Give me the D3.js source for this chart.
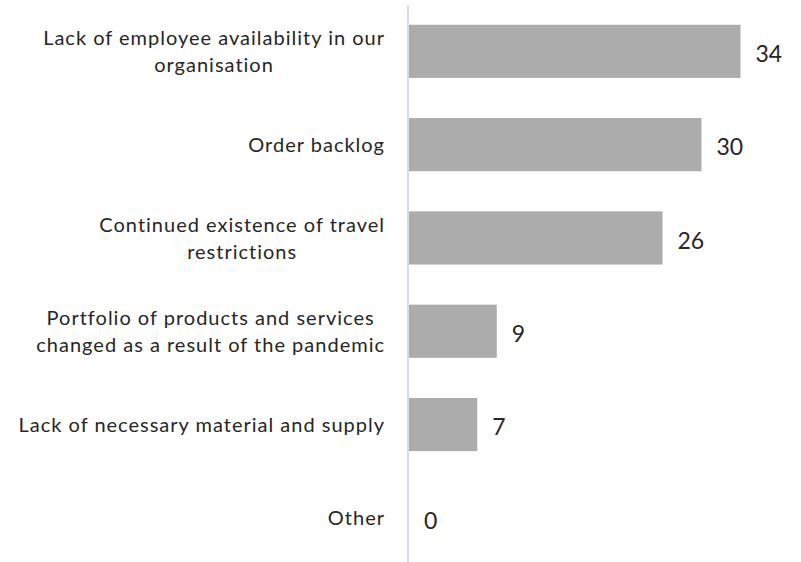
<!DOCTYPE html>
<html>
<head>
<meta charset="utf-8">
<script src="https://d3js.org/d3.v7.min.js"></script>
<style>
  body { margin: 0; background: #fff; }
  text { font-family: Lato, "Open Sans", sans-serif; fill: #262626; }
</style>
</head>
<body>
<script>

// categories, one entry per bar, split in the lines shown in the chart
var categories = [
  ["Lack of employee availability in our", "organisation"],
  ["Order backlog"],
  ["Continued existence of travel", "restrictions"],
  ["Portfolio of products and services", "changed as a result of the pandemic"],
  ["Lack of necessary material and supply"],
  ["Other"]
];
var values = [34, 30, 26, 9, 7, 0];
var keys = categories.map(function(c) { return c.join(" "); });

var width = 801, height = 562;
var axisX = 409;

var svg = d3.select("body").append("svg")
    .attr("width", width)
    .attr("height", height);

var x = d3.scaleLinear()
    .domain([0, 40])
    .range([axisX, 799]);

var y = d3.scaleBand()
    .domain(keys)
    .range([4.7, 564.5])
    .paddingInner(0.43)
    .paddingOuter(0.215);

// bars
svg.append("g").selectAll("rect")
    .data(values)
    .enter().append("rect")
    .attr("x", x(0))
    .attr("y", function(d, i) { return y(keys[i]); })
    .attr("width", function(d) { return x(d) - x(0); })
    .attr("height", y.bandwidth())
    .attr("fill", "#acacac");

// vertical axis line
svg.append("line")
    .attr("x1", axisX - 1).attr("x2", axisX - 1)
    .attr("y1", 5).attr("y2", height)
    .attr("stroke", "#d5dde5")
    .attr("stroke-width", 2);

// value labels
svg.append("g").selectAll("text")
    .data(values)
    .enter().append("text")
    .attr("x", function(d) { return x(d) + 15; })
    .attr("y", function(d, i) { return y(keys[i]) + y.bandwidth() / 2; })
    .attr("dy", "0.47em")
    .attr("font-size", 23)
    .text(function(d) { return d; });

// category labels: lines centred, block right-aligned against the axis
var lineH = 27;
var labelRight = 385;
categories.forEach(function(lines, i) {
  var cy = y(keys[i]) + y.bandwidth() / 2;
  var g = svg.append("g");
  var t = g.selectAll("text")
      .data(lines)
      .enter().append("text")
      .attr("font-size", 20)
      .attr("letter-spacing", 1)
      .attr("text-anchor", "middle")
      .attr("y", function(d, j) { return cy + 7.5 + (j - (lines.length - 1) / 2) * lineH; })
      .text(function(d) { return d; });
  var w = d3.max(t.nodes(), function(n) { return n.getComputedTextLength(); });
  t.attr("x", labelRight - w / 2);
});

</script>
</body>
</html>
